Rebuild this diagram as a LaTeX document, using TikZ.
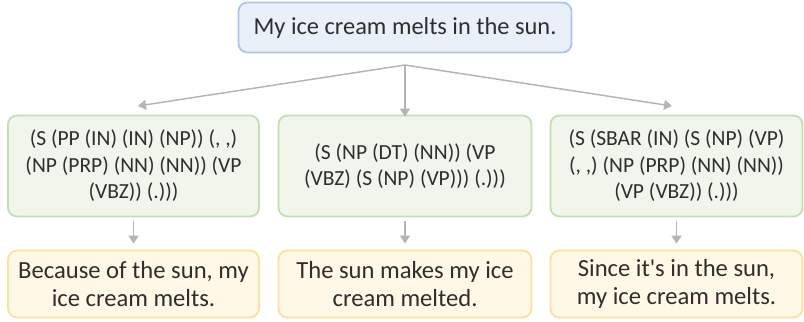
\documentclass[tikz,border=0pt]{standalone}
\usepackage{fontspec}
\newfontfamily\calfont{Carlito}
\usetikzlibrary{arrows.meta}
\definecolor{txt}{HTML}{2E2E2E}
\definecolor{bluefill}{HTML}{EAF0F9}
\definecolor{blueline}{HTML}{B0C4E8}
\definecolor{greenfill}{HTML}{F1F6EC}
\definecolor{greenline}{HTML}{C4DDB2}
\definecolor{yellowfill}{HTML}{FFF8E6}
\definecolor{yellowline}{HTML}{FAE19C}
\definecolor{arrowgray}{HTML}{B5B5B5}
\tikzset{
  box/.style={rounded corners=9bp, line width=1.8bp, align=center, text=txt,
    inner sep=0pt, font=\calfont\fontsize{21.6}{26.5}\selectfont},
  topbox/.style={box, fill=bluefill, draw=blueline, minimum width=333bp, minimum height=50bp,
    font=\calfont\fontsize{24.5}{28}\selectfont},
  treebox/.style={box, fill=greenfill, draw=greenline, minimum width=251bp, minimum height=101bp},
  outbox/.style={box, fill=yellowfill, draw=yellowline, minimum width=251bp, minimum height=67bp,
    font=\calfont\fontsize{24.7}{28.5}\selectfont},
  conn/.style={draw=arrowgray, line width=1.5bp, -{Triangle[length=8bp,width=10bp]}, arrowgray},
}
\begin{document}
\begin{tikzpicture}[x=1bp,y=-1bp]
\useasboundingbox (0,0) rectangle (804,321);
\node[topbox] (top) at (405,27.5) {My ice cream melts in the sun.};
\node[treebox] (t1) at (133.5,166) {(S (PP (IN) (IN) (NP)) (, ,)\\(NP (PRP) (NN) (NN)) (VP\\(VBZ)) (.)))};
\node[treebox, minimum width=253bp] (t2) at (405,166) {(S (NP (DT) (NN)) (VP\\(VBZ) (S (NP) (VP))) (.)))};
\node[treebox, minimum width=252bp] (t3) at (676.5,166) {(S (SBAR (IN) (S (NP) (VP)\\(, ,) (NP (PRP) (NN) (NN))\\(VP (VBZ)) (.)))};
\node[outbox] (o1) at (133.5,284) {Because of the sun, my\\ice cream melts.};
\node[outbox, minimum width=253bp] (o2) at (405,284) {The sun makes my ice\\cream melted.};
\node[outbox, minimum width=252bp] (o3) at (676.5,284) {Since it's in the sun,\\my ice cream melts.};
\coordinate (split) at (405,65);
\coordinate (e1) at (138,106);
\coordinate (e3) at (672,106);
\draw[conn] (split) -- (e1);
\draw[conn] (split) -- ([yshift=-2bp]t2.north);
\draw[conn] (split) -- (e3);
\draw[conn] ([yshift=-4bp]t1.south) -- ([yshift=6bp]o1.north);
\draw[conn] ([yshift=-4bp]t2.south) -- ([yshift=6bp]o2.north);
\draw[conn] ([yshift=-4bp]t3.south) -- ([yshift=6bp]o3.north);
\end{tikzpicture}
\end{document}
